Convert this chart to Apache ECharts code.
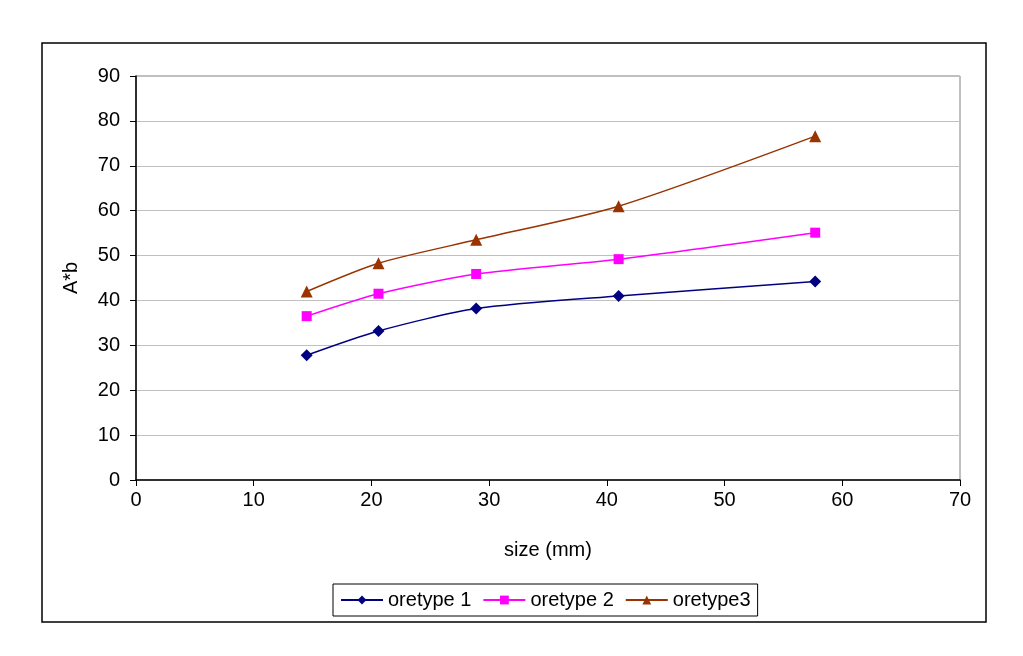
<!DOCTYPE html>
<html>
<head>
<meta charset="utf-8">
<script src="https://cdn.jsdelivr.net/npm/echarts@6/dist/echarts.min.js"></script>
<style>
html,body{margin:0;padding:0;background:#fff;}
#chart{width:1023px;height:656px;}
</style>
</head>
<body>
<div id="chart"></div>
<script>
const sizes = [14.5, 20.6, 28.9, 41.0, 57.7];
const oretype1 = [27.8, 33.2, 38.2, 41.0, 44.2];
const oretype2 = [36.5, 41.5, 45.9, 49.2, 55.1];
const oretype3 = [42.0, 48.3, 53.5, 61.0, 76.6];
const seriesNames = ['oretype 1', 'oretype 2', 'oretype3'];
const xTitle = 'size (mm)';
const yTitle = 'A*b';

const FONT = '"Liberation Sans", Arial, sans-serif';
const FS = 20;
const pairs = arr => sizes.map((x, i) => [x, arr[i]]);

const chart = echarts.init(document.getElementById('chart'), null, {renderer: 'canvas'});
chart.setOption({
  backgroundColor: '#ffffff',
  animation: false,
  textStyle: {fontFamily: FONT},
  graphic: [{
    type: 'rect', z: -1,
    shape: {x: 42, y: 43, width: 944, height: 579},
    style: {fill: 'none', stroke: '#000', lineWidth: 1.5}
  }],
  grid: {left: 136, right: 63, top: 76, bottom: 176, show: true, borderColor: '#808080', borderWidth: 1, backgroundColor: 'transparent'},
  xAxis: {
    type: 'value', min: 0, max: 70, interval: 10,
    name: xTitle, nameLocation: 'middle', nameGap: 60,
    nameTextStyle: {fontSize: FS, color: '#000', fontFamily: FONT},
    axisLine: {show: true, onZero: false, lineStyle: {color: '#000', width: 1.5}},
    axisTick: {show: true, length: 6, lineStyle: {color: '#000'}},
    axisLabel: {fontSize: FS, color: '#000', margin: 10, fontFamily: FONT},
    splitLine: {show: false}
  },
  yAxis: {
    type: 'value', min: 0, max: 90, interval: 10,
    name: yTitle, nameLocation: 'middle', nameGap: 55,
    nameTextStyle: {fontSize: FS, color: '#000', fontFamily: FONT},
    axisLine: {show: true, onZero: false, lineStyle: {color: '#000', width: 1.5}},
    axisTick: {show: true, length: 6, lineStyle: {color: '#000'}},
    axisLabel: {fontSize: FS, color: '#000', margin: 16, fontFamily: FONT},
    splitLine: {show: true, lineStyle: {color: '#c0c0c0', width: 1}}
  },
  legend: {
    left: 333, top: 584,
    orient: 'horizontal',
    padding: [6, 7, 6, 7],
    itemGap: 11,
    itemWidth: 42, itemHeight: 11,
    borderColor: '#000', borderWidth: 1,
    textStyle: {fontSize: FS, color: '#000', fontFamily: FONT},
    data: seriesNames
  },
  series: [
    {name: seriesNames[0], type: 'line', data: pairs(oretype1), smooth: 0.25,
     symbol: 'diamond', symbolSize: 12, color: '#000080',
     lineStyle: {color: '#000080', width: 1.5}, itemStyle: {color: '#000080'}},
    {name: seriesNames[1], type: 'line', data: pairs(oretype2), smooth: 0.25,
     symbol: 'rect', symbolSize: 10, color: '#ff00ff',
     lineStyle: {color: '#ff00ff', width: 1.5}, itemStyle: {color: '#ff00ff'}},
    {name: seriesNames[2], type: 'line', data: pairs(oretype3), smooth: 0.25,
     symbol: 'triangle', symbolSize: 12, color: '#993300',
     lineStyle: {color: '#993300', width: 1.5}, itemStyle: {color: '#993300'}}
  ]
});
</script>
</body>
</html>
